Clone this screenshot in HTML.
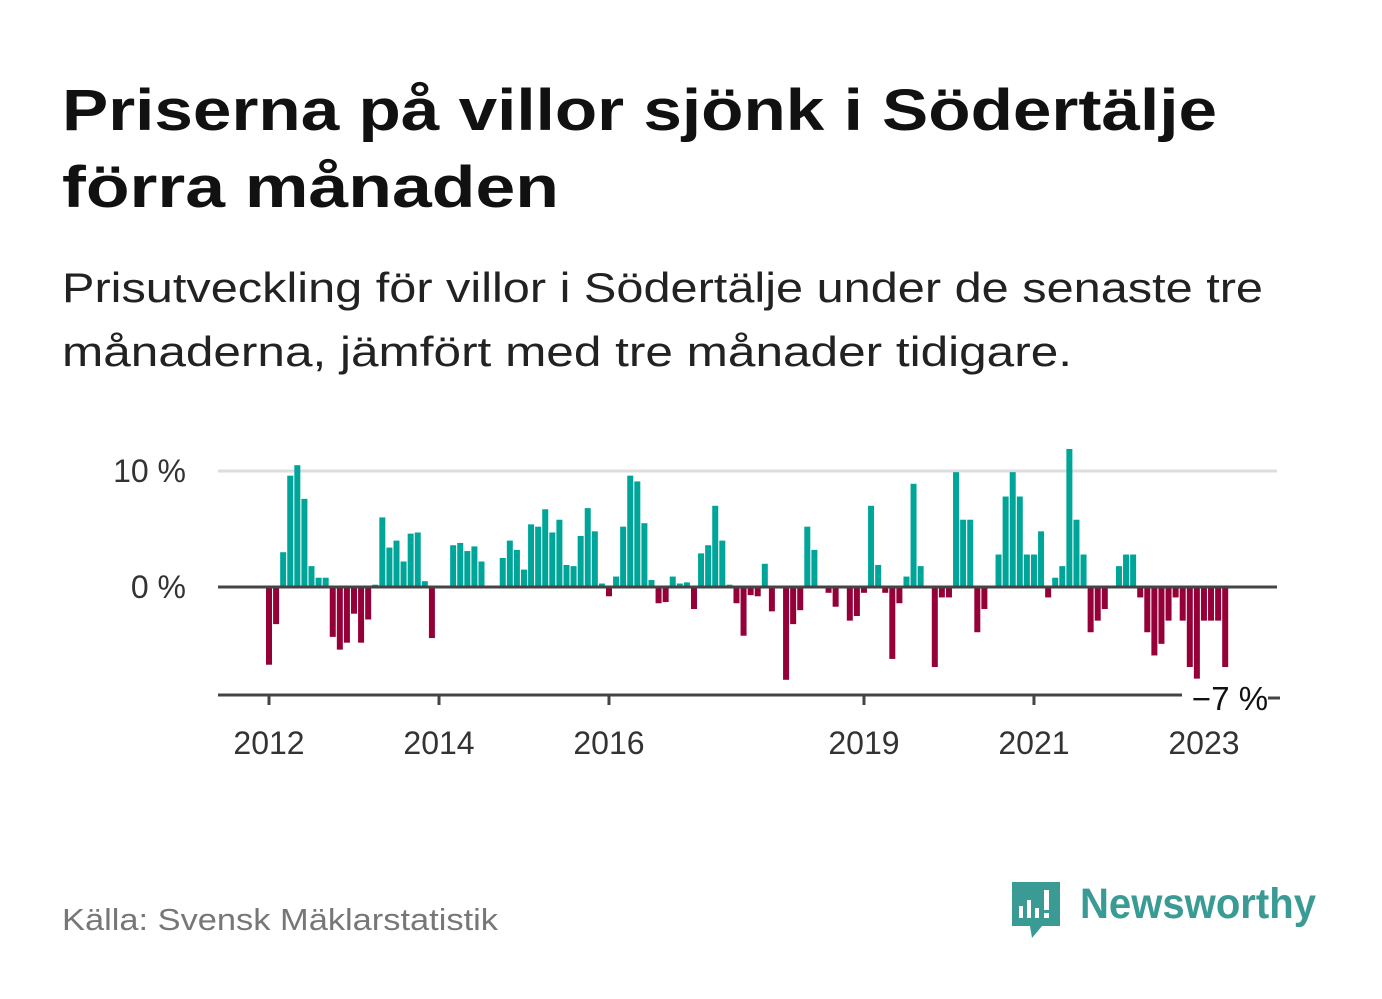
<!DOCTYPE html>
<html><head><meta charset="utf-8"><style>
html,body{margin:0;padding:0;background:#fff;}
svg{display:block;font-family:"Liberation Sans",sans-serif;}
</style></head><body>
<svg id="chart" width="1382" height="999" viewBox="0 0 1382 999">
<text x="62" y="130" font-size="58" font-weight="bold" fill="#111" textLength="1155" lengthAdjust="spacingAndGlyphs">Priserna på villor sjönk i Södertälje</text>
<text x="62" y="207" font-size="58" font-weight="bold" fill="#111" textLength="497" lengthAdjust="spacingAndGlyphs">förra månaden</text>
<text x="62" y="302" font-size="42" fill="#222" textLength="1201" lengthAdjust="spacingAndGlyphs">Prisutveckling för villor i Södertälje under de senaste tre</text>
<text x="62" y="366" font-size="42" fill="#222" textLength="1010" lengthAdjust="spacingAndGlyphs">månaderna, jämfört med tre månader tidigare.</text>
<g id="plot"></g>
<text x="62" y="930" font-size="31" fill="#777" textLength="436" lengthAdjust="spacingAndGlyphs">Källa: Svensk Mäklarstatistik</text>
<g>
<path d="M1012 882 h48 v44 h-18 l-10 12 l-2 -12 h-18 z" fill="#3a9a94"/>
<rect x="1019" y="906" width="4" height="12" fill="#fff"/><rect x="1027" y="900" width="4" height="18" fill="#fff"/><rect x="1035" y="908" width="4" height="10" fill="#fff"/><rect x="1044" y="890" width="5" height="20" fill="#fff"/><rect x="1044" y="913" width="5" height="5" fill="#fff"/>
<text x="1080" y="918" font-size="43" font-weight="bold" fill="#3a9a94" textLength="236" lengthAdjust="spacingAndGlyphs">Newsworthy</text>
</g>
</svg>
<script>
const values = [-6.7,-3.2,3.0,9.6,10.5,7.6,1.8,0.8,0.8,-4.3,-5.4,-4.8,-2.3,-4.8,-2.8,0.2,6.0,3.4,4.0,2.2,4.6,4.7,0.5,-4.4,0,0.1,3.6,3.8,3.1,3.5,2.2,0,0,2.5,4.0,3.2,1.5,5.4,5.2,6.7,4.7,5.8,1.9,1.8,4.4,6.8,4.8,0.3,-0.8,0.9,5.2,9.6,9.1,5.5,0.6,-1.4,-1.3,0.9,0.3,0.4,-1.9,2.9,3.6,7.0,4.0,0.2,-1.4,-4.2,-0.7,-0.8,2.0,-2.1,-0.1,-8.0,-3.2,-2.0,5.2,3.2,0,-0.5,-1.7,0,-2.9,-2.5,-0.5,7.0,1.9,-0.5,-6.2,-1.4,0.9,8.9,1.8,0,-6.9,-0.9,-0.9,9.9,5.8,5.8,-3.9,-1.9,0,2.8,7.8,9.9,7.8,2.8,2.8,4.8,-0.9,0.8,1.8,11.9,5.8,2.8,-3.9,-2.9,-1.9,0,1.8,2.8,2.8,-0.9,-3.9,-5.9,-4.9,-2.9,-0.9,-2.9,-6.9,-7.9,-2.9,-2.9,-2.9,-6.9];
const yTicks = [0, 10];
const yTickLabels = ["0 %", "10 %"];
const xTickYears = [2012, 2014, 2016, 2019, 2021, 2023];
const lastLabel = "−7 %";

const NS = "http://www.w3.org/2000/svg";
const g = document.getElementById("plot");
const x = i => 269 + i * 7.083;
const xYear = yr => x((yr - 2012) * 12);
const y = v => 587 - v * 11.6;
function mk(tag, attrs){const e=document.createElementNS(NS,tag);for(const k in attrs)e.setAttribute(k,attrs[k]);g.appendChild(e);return e;}

yTicks.forEach((t,k)=>{
  if(t!==0){const l=mk("line",{x1:218,x2:1277,y1:y(t),y2:y(t),stroke:"#ddd","stroke-width":3});
  
  }
  const tx=mk("text",{x:186,y:y(t)+11,"font-size":32,fill:"#333","text-anchor":"end"});
  tx.textContent=yTickLabels[k];
  
  
});
values.forEach((v,i)=>{
  if(v===0)return;
  const top=Math.min(y(v),y(0)), h=Math.abs(y(v)-y(0));
  const r=mk("rect",{x:x(i)-3,y:top,width:6,height:h,fill:v>0?"#00a59a":"#960039"});
  
  
});
const zl=mk("line",{x1:218,x2:1277,y1:y(0),y2:y(0),stroke:"#444","stroke-width":3});


const ax=mk("line",{x1:218,x2:1182,y1:695,y2:695,stroke:"#444","stroke-width":3});


xTickYears.forEach(yr=>{
  const t=mk("line",{x1:xYear(yr),x2:xYear(yr),y1:695,y2:705,stroke:"#444","stroke-width":3});
  
  
  const tx=mk("text",{x:xYear(yr),y:754,"font-size":32,fill:"#333","text-anchor":"middle"});
  tx.textContent=yr;
  
  
});
const bg=mk("rect",{x:1186,y:680,width:80,height:34,fill:"#fff"});


const ll=mk("text",{x:1230,y:710,"font-size":33,fill:"#111","text-anchor":"middle"});
ll.textContent=lastLabel;


const d=mk("line",{x1:1268,x2:1280,y1:698,y2:698,stroke:"#444","stroke-width":3});


</script>
</body></html>
